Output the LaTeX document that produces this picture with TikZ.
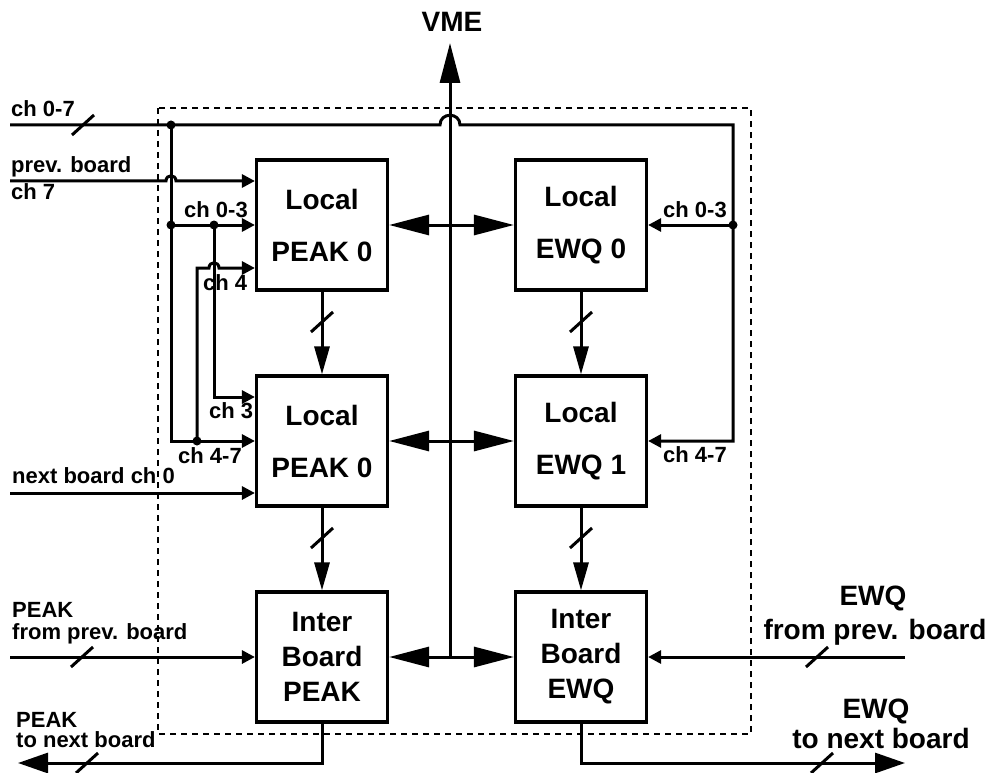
\documentclass[tikz,border=0pt]{standalone}
\usepackage{fontspec}
\setmainfont{Liberation Sans}
\usetikzlibrary{arrows.meta}
\newcommand\tkmark[2]{\draw[ln] (#1-11,#2+10) -- (#1+11,#2-10);}
\begin{document}
\begin{tikzpicture}[x=1pt,y=-1pt,
  ln/.style={line width=3pt},
  blk/.style={draw, line width=3.2pt, minimum width=131pt, minimum height=130pt, inner sep=0pt, align=center, font=\fontsize{28}{52}\selectfont\bfseries},
  iblk/.style={blk, font=\fontsize{28}{35}\selectfont\bfseries},
  lab/.style={inner sep=0pt, font=\fontsize{22}{26}\selectfont\bfseries},
  blab/.style={inner sep=0pt, font=\fontsize{28}{32}\selectfont\bfseries},
  sa/.style={-{Triangle[length=13pt,width=13pt]}},
  ma/.style={-{Triangle[length=28pt,width=15pt]}},
  ba/.style={{Triangle[length=40pt,width=20pt]}-{Triangle[length=40pt,width=20pt]}},
  va/.style={-{Triangle[length=40pt,width=20pt]}},
  oa/.style={-{Triangle[length=30pt,width=20pt]}},
  jdot/.style={circle, fill, inner sep=0pt, minimum size=9pt}
]
\useasboundingbox (0,0) rectangle (991,773);
% dashed board outline
\draw[line width=2.8pt, dash pattern=on 6pt off 5pt] (158,108) rectangle (751,734);

% blocks
\node[blk] (p0) at (322,225) {Local\\PEAK 0};
\node[blk] (e0) at (581,225) {Local\\EWQ 0};
\node[blk] (p1) at (322,441) {Local\\PEAK 0};
\node[blk] (e1) at (581,441) {Local\\EWQ 1};
\node[iblk] (ip) at (322,657) {Inter\\Board\\PEAK};
\node[iblk] (ie) at (581,657) {Inter\\Board\\EWQ};

% coordinates
\coordinate (in07) at (10,125);
\coordinate (tr) at (733,125);
\coordinate (in7) at (10,181);
\coordinate (in0) at (10,493);
\coordinate (c3) at (214,397);
\coordinate (c4) at (197,268);
\coordinate (vme) at (450,43);
\coordinate (bb) at (450,657);
\coordinate (ipin) at (10,657);
\coordinate (iein) at (905,657);
\coordinate (ipo) at (18,763);
\coordinate (ieo) at (905,763);
\node[jdot] (j1) at (171,125) {};
\node[jdot] (j2) at (171,225) {};
\node[jdot] (j3) at (214,225) {};
\node[jdot] (j4) at (197,441) {};
\node[jdot] (j5) at (733,225) {};

% VME bus
\draw[ln,va] (bb) -- (vme);
\draw[ln,ba] (p0) -- (e0);
\draw[ln,ba] (p1) -- (e1);
\draw[ln,ba] (ip) -- (ie);

% ch 0-7 bus
\draw[ln,sa] (in07) -- (440,125) .. controls (440,112) and (460,112) .. (460,125) -- (tr) -- (tr |- e1.east) -- (e1.east);
\draw[ln,sa] (j1.center) -- (j1.center |- p1.west) -- (p1.west);
\draw[ln,sa] (in7) -- (166,181) .. controls (166,174) and (176,174) .. (176,181) -- (in7 -| p0.west);
\draw[ln,sa] (j2.center) -- (p0.west);
\draw[ln,sa] (j3.center) -- (c3) -- (c3 -| p1.west);
\draw[ln,sa] (j4.center) -- (c4) -- (209,268) .. controls (209,261) and (219,261) .. (219,268) -- (c4 -| p0.west);
\draw[ln,sa] (in0) -- (in0 -| p1.west);
\draw[ln,sa] (j5.center) -- (e0.east);

% block to block
\draw[ln,ma] (p0) -- (p1);
\draw[ln,ma] (e0) -- (e1);
\draw[ln,ma] (p1) -- (ip);
\draw[ln,ma] (e1) -- (ie);

% inter-board
\draw[ln,sa] (ipin) -- (ip);
\draw[ln,sa] (iein) -- (ie);
\draw[ln,oa] (ip.south) -- (ip.south |- ipo) -- (ipo);
\draw[ln,oa] (ie.south) -- (ie.south |- ieo) -- (ieo);

% bus width marks
\tkmark{83}{125}
\tkmark{322}{322}
\tkmark{581}{322}
\tkmark{322}{538}
\tkmark{581}{538}
\tkmark{82}{657}
\tkmark{87}{763}
\tkmark{817}{657}
\tkmark{822}{763}

% labels
\node[blab, anchor=base] (lvme) at (452,32) {VME};
\node[lab, anchor=base west] (l07) at (11,117) {ch 0-7};
\node[lab, anchor=base west] (lpb) at (11,172) {prev. board};
\node[lab, anchor=base west] (lc7) at (11,200) {ch 7};
\node[lab, anchor=base west] (l03) at (184,217) {ch 0-3};
\node[lab, anchor=base west] (l4) at (203,290) {ch 4};
\node[lab, anchor=base west] (l3) at (209,418) {ch 3};
\node[lab, anchor=base west] (l47) at (178,463) {ch 4-7};
\node[lab, anchor=base west] (lnb) at (12,483) {next board ch 0};
\node[lab, anchor=base west] (r03) at (663,217) {ch 0-3};
\node[lab, anchor=base west] (r47) at (663,462) {ch 4-7};
\node[lab, anchor=base west] (lpk1) at (12,617) {PEAK};
\node[lab, anchor=base west] (lpk2) at (12,639) {from prev. board};
\node[lab, anchor=base west] (lpk3) at (16,727) {PEAK};
\node[lab, anchor=base west] (lpk4) at (16,747) {to next board};
\node[blab, anchor=base] (rew1) at (873,605) {EWQ};
\node[blab, anchor=base] (rew2) at (875,639) {from prev. board};
\node[blab, anchor=base] (rew3) at (876,718) {EWQ};
\node[blab, anchor=base] (rew4) at (881,748) {to next board};
\end{tikzpicture}
\end{document}
